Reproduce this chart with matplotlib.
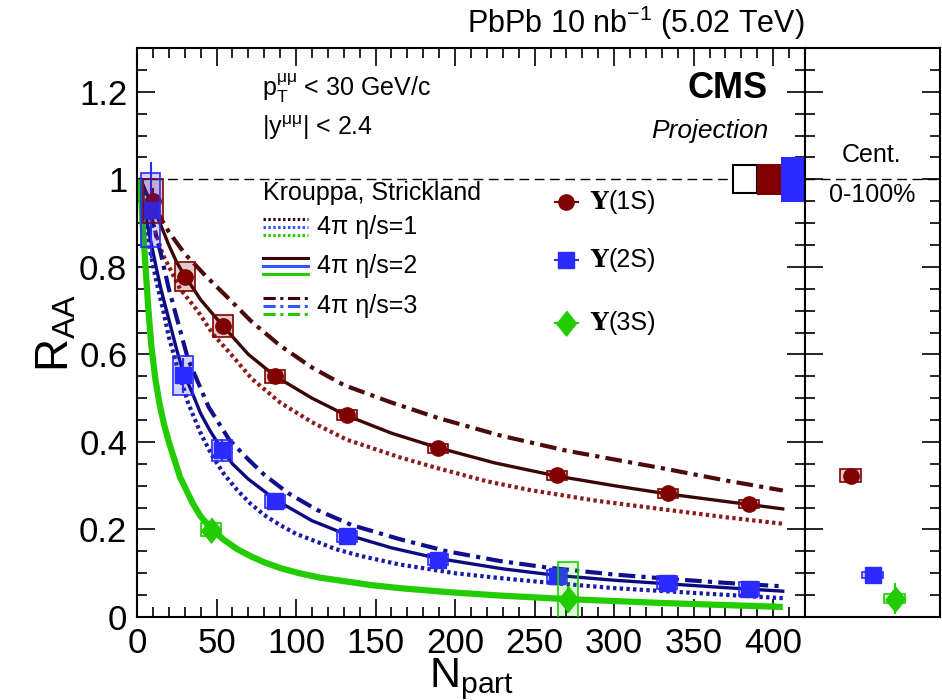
import matplotlib.pyplot as plt
import numpy as np
from matplotlib.patches import Rectangle
from matplotlib.ticker import MultipleLocator, FuncFormatter

plt.rcParams['font.family'] = ['Liberation Sans', 'DejaVu Sans']
plt.rcParams['mathtext.fontset'] = 'custom'
plt.rcParams['mathtext.rm'] = 'Liberation Sans'
plt.rcParams['mathtext.it'] = 'Liberation Sans:italic'
plt.rcParams['mathtext.bf'] = 'Liberation Sans:bold'

# --- measured points (RAA vs Npart) ---
npart_1s = [10, 30, 54, 87, 132, 189, 264, 334, 385]
raa_1s = [0.95, 0.777, 0.665, 0.550, 0.461, 0.385, 0.324, 0.283, 0.258]
stat_1s = [0.03, 0.012, 0.01, 0.008, 0.006, 0.005, 0.005, 0.005, 0.005]
syst_1s = [0.05, 0.033, 0.025, 0.015, 0.012, 0.01, 0.01, 0.01, 0.01]

npart_2s = [8.5, 29, 53.5, 87, 132, 189.5, 264, 333, 385]
raa_2s = [0.93, 0.552, 0.381, 0.264, 0.184, 0.131, 0.093, 0.078, 0.064]
stat_2s = [0.11, 0.04, 0.025, 0.012, 0.01, 0.01, 0.01, 0.012, 0.015]
syst_2s = [0.085, 0.044, 0.024, 0.015, 0.012, 0.012, 0.015, 0.015, 0.015]

npart_3s = [46.5, 271]
raa_3s = [0.199, 0.040]
stat_3s = [0.015, 0.03]
syst_3s = [0.015, 0.085]

# centrality integrated (0-100%)
int_raa = [0.323, 0.096, 0.042]
int_stat = [0.006, 0.006, 0.035]
int_syst = [0.014, 0.006, 0.011]
int_pos = [0.34, 0.50, 0.665]

# global uncertainties at RAA=1: common, 1S, 2S
glob_unc = [0.032, 0.035, 0.052]
glob_x = [375, 390, 405]

# --- Krouppa, Strickland curves (4pi eta/s = 1, 2, 3) ---
x_1s_e1 = [2, 8, 16, 27, 38, 48, 58, 72, 90, 110, 132, 165, 189, 220, 247, 290, 333, 370, 406]
y_1s_e1 = [1.0, 0.92, 0.83, 0.75, 0.70, 0.645, 0.605, 0.545, 0.49, 0.445, 0.405, 0.365, 0.34, 0.31, 0.29, 0.265, 0.245, 0.228, 0.213]
x_1s_e2 = [2, 5, 10, 15, 20, 25, 30, 40, 54, 70, 87, 110, 132, 160, 189, 225, 264, 300, 334, 370, 406]
y_1s_e2 = [1.0, 0.975, 0.94, 0.895, 0.85, 0.81, 0.78, 0.725, 0.665, 0.60, 0.55, 0.50, 0.46, 0.42, 0.387, 0.352, 0.322, 0.300, 0.281, 0.264, 0.247]
x_1s_e3 = [2, 6, 12, 20, 30, 43, 57, 72, 90, 110, 130, 160, 189, 228, 270, 300, 333, 370, 406]
y_1s_e3 = [1.0, 0.965, 0.93, 0.88, 0.83, 0.78, 0.73, 0.675, 0.62, 0.57, 0.53, 0.49, 0.455, 0.415, 0.38, 0.36, 0.338, 0.312, 0.289]

x_2s_e1 = [2, 5, 8, 12, 16.5, 20, 25, 32, 40, 47, 55, 63, 71, 80, 90, 100, 113, 125, 140, 165, 200, 228, 260, 300, 350, 406]
y_2s_e1 = [1.0, 0.91, 0.84, 0.77, 0.70, 0.64, 0.575, 0.49, 0.42, 0.37, 0.325, 0.29, 0.26, 0.233, 0.21, 0.19, 0.172, 0.155, 0.14, 0.12, 0.10, 0.089, 0.078, 0.066, 0.055, 0.043]
x_2s_e2 = [2, 5, 8, 12, 15, 20, 25, 29, 35, 40, 46, 53, 60, 70, 87, 110, 132, 160, 189, 230, 264, 300, 333, 370, 406]
y_2s_e2 = [1.0, 0.93, 0.87, 0.80, 0.75, 0.68, 0.61, 0.56, 0.51, 0.465, 0.425, 0.385, 0.35, 0.315, 0.268, 0.22, 0.188, 0.158, 0.134, 0.11, 0.095, 0.084, 0.076, 0.067, 0.059]
x_2s_e3 = [2, 5, 10, 15, 20, 26, 32, 45, 58, 70, 80, 95, 113, 135, 165, 195, 228, 260, 300, 335, 370, 406]
y_2s_e3 = [1.0, 0.96, 0.9, 0.83, 0.75, 0.67, 0.59, 0.48, 0.405, 0.36, 0.325, 0.283, 0.245, 0.21, 0.178, 0.15, 0.128, 0.112, 0.097, 0.087, 0.078, 0.070]

x_3s = [2, 3.5, 5, 7, 9, 11.5, 14, 17, 20, 23.5, 27, 31, 35, 40, 46, 54, 63, 72, 80, 90, 102, 115, 130, 147, 165, 195, 228, 270, 330, 406]
y_3s = [1.0, 0.9, 0.82, 0.71, 0.62, 0.545, 0.49, 0.44, 0.40, 0.36, 0.32, 0.29, 0.26, 0.23, 0.205, 0.178, 0.155, 0.138, 0.125, 0.112, 0.10, 0.09, 0.082, 0.073, 0.066, 0.057, 0.049, 0.041, 0.032, 0.023]

c1, c2, c3 = '#800000', '#2b2bff', '#22cc00'
f1, f2, f3 = (0.5, 0, 0, 0.2), (0.17, 0.17, 1, 0.2), (0.13, 0.8, 0, 0.15)

W, H = 942.0, 700.0
fig = plt.figure(figsize=(W / 100, H / 100), dpi=100)
ax = fig.add_axes([137 / W, 1 - 617 / H, (805 - 137) / W, (617 - 48) / H])
ax2 = fig.add_axes([805 / W, 1 - 617 / H, (940 - 805) / W, (617 - 48) / H])

for a in (ax, ax2):
    a.set_ylim(0, 1.3)
    a.yaxis.set_major_locator(MultipleLocator(0.2))
    a.yaxis.set_minor_locator(MultipleLocator(0.05))
    a.tick_params(which='both', direction='in', width=1.2, top=True, right=True)
    a.tick_params(which='major', length=13)
    a.tick_params(which='minor', length=7)
    for s in a.spines.values():
        s.set_linewidth(1.5)
    a.axhline(1, color='k', lw=1, ls=(0, (7, 4)), zorder=1)

ax.set_xlim(0, 420)
ax.xaxis.set_major_locator(MultipleLocator(50))
ax.xaxis.set_minor_locator(MultipleLocator(10))
ax.tick_params(labelsize=25, pad=7)
ax.yaxis.set_major_formatter(FuncFormatter(lambda v, p: '%g' % round(v, 2)))
ax2.set_xlim(0, 1)
ax2.tick_params(axis='x', which='both', bottom=False, top=False, labelbottom=False)
ax2.tick_params(axis='y', labelleft=False)

# model curves
dot = (0, (0.8, 0.8))
dd = (0, (4, 1.5, 1, 1.5))
ax.plot(x_1s_e1, y_1s_e1, color='#8a1c1c', lw=3, ls=dot, zorder=2)
ax.plot(x_1s_e2, y_1s_e2, color='#3a0606', lw=2.4, zorder=2)
ax.plot(x_1s_e3, y_1s_e3, color='#4d0a0a', lw=3, ls=dd, zorder=2)
ax.plot(x_2s_e1, y_2s_e1, color='#1a1aa6', lw=3, ls=dot, zorder=2)
ax.plot(x_2s_e2, y_2s_e2, color='#0b0b80', lw=2.4, zorder=2)
ax.plot(x_2s_e3, y_2s_e3, color='#10108c', lw=3, ls=dd, zorder=2)
ax.plot(x_3s, y_3s, color=c3, lw=4.5, zorder=2, solid_capstyle='butt')

# markers first, systematic boxes drawn over them
diamond = [(0, 1), (0.8, 0), (0, -1), (-0.8, 0)]
ax.errorbar(npart_1s, raa_1s, yerr=stat_1s, fmt='o', color=c1, ms=11, elinewidth=1.5, zorder=4)
ax.errorbar(npart_2s, raa_2s, yerr=stat_2s, fmt='s', color=c2, ms=11, elinewidth=1.5, zorder=4)
ax.errorbar(npart_3s, raa_3s, yerr=stat_3s, fmt='none', ecolor=c3, elinewidth=1.5, zorder=4)
ax.plot(npart_3s, raa_3s, ls='none', marker=diamond, color=c3, ms=18, zorder=4)


def boxes(a, xs, ys, es, w, fc, ec):
    for x, y, e in zip(xs, ys, es):
        a.add_patch(Rectangle((x - w / 2, y - e), w, 2 * e, facecolor=fc,
                              edgecolor=ec, lw=1.2, zorder=5))


boxes(ax, npart_1s, raa_1s, syst_1s, 12.5, f1, c1)
boxes(ax, npart_2s, raa_2s, syst_2s, 12.5, f2, c2)
boxes(ax, npart_3s, raa_3s, syst_3s, 12.5, f3, c3)

# global uncertainty boxes
ax.add_patch(Rectangle((glob_x[0], 1 - glob_unc[0]), 15, 2 * glob_unc[0], fc='white', ec='k', lw=1.5, zorder=6, clip_on=False))
ax.add_patch(Rectangle((glob_x[1], 1 - glob_unc[1]), 15, 2 * glob_unc[1], fc=c1, ec=c1, lw=0, zorder=6, clip_on=False))
ax.add_patch(Rectangle((glob_x[2], 1 - glob_unc[2]), 15, 2 * glob_unc[2], fc=c2, ec=c2, lw=0, zorder=6, clip_on=False))

# integrated panel
for x, y, st, sy, c, f, m, ms in zip(int_pos, int_raa, int_stat, int_syst, [c1, c2, c3], [f1, f2, f3],
                                     ['o', 's', diamond], [11, 11, 18]):
    ax2.errorbar([x], [y], yerr=[st], fmt='none', ecolor=c, elinewidth=1.5, zorder=3)
    ax2.plot([x], [y], ls='none', marker=m, color=c, ms=ms, zorder=4)
    ax2.add_patch(Rectangle((x - 0.078, y - sy), 0.156, 2 * sy, fc=f, ec=c, lw=1.2, zorder=5))

# overlay in pixel coordinates for text and legend
ov = fig.add_axes([0, 0, 1, 1])
ov.set_xlim(0, W)
ov.set_ylim(H, 0)
ov.axis('off')

ov.text(805, 23, r'PbPb 10 nb$^{-1}$ (5.02 TeV)', fontsize=22, ha='right', va='center')
ov.text(768, 89, 'CMS', fontsize=26, fontweight='bold', ha='right', va='center')
ov.text(768, 131, 'Projection', fontsize=19, style='italic', ha='right', va='center')
ov.text(262, 88, r'p$_{\mathrm{T}}^{\mathrm{\mu\mu}}$ < 30 GeV/c', fontsize=18, ha='left', va='center')
ov.text(262, 128, r'|y$^{\mathrm{\mu\mu}}$| < 2.4', fontsize=18, ha='left', va='center')
ov.text(263, 193, 'Krouppa, Strickland', fontsize=18, ha='left', va='center')

leg_y = [227, 265.5, 305.5]
leg_lab = ['4\u03c0 \u03b7/s=1', '4\u03c0 \u03b7/s=2', '4\u03c0 \u03b7/s=3']
leg_ls = [dot, '-', dd]
for yy, lab, ls in zip(leg_y, leg_lab, leg_ls):
    for off, col in zip([-8, 0, 8], ['#3a0606', '#3355ff', c3]):
        ov.plot([263, 308], [yy + off, yy + off], color=col, lw=2.2, ls=ls)
    ov.text(317, yy, lab, fontsize=18, ha='left', va='center')

mk_y = [201.7, 260, 323]
mk_lab = ['(1S)', '(2S)', '(3S)']
for yy, lab, c, m, ms in zip(mk_y, mk_lab, [c1, c2, c3], ['o', 's', diamond], [11, 11, 18]):
    ov.plot([555, 578], [yy, yy], color=c, lw=1.5)
    ov.plot([566], [yy], ls='none', marker=m, color=c, ms=ms)
    ov.text(590, yy, '\u03a5', fontsize=18, family='DejaVu Serif', fontweight='bold', ha='left', va='center')
    ov.text(608, yy, lab, fontsize=18, ha='left', va='center')

ov.text(872, 155, 'Cent.', fontsize=18, ha='center', va='center')
ov.text(872, 195, '0-100%', fontsize=18, ha='center', va='center')

fig.text(56 / W, 1 - 333 / H, r'R$_{\mathrm{AA}}$', fontsize=33, rotation=90, ha='center', va='center')
fig.text(472 / W, 1 - 679 / H, r'N$_{\mathrm{part}}$', fontsize=31, ha='center', va='center')

fig.savefig('out.png', dpi=100)
